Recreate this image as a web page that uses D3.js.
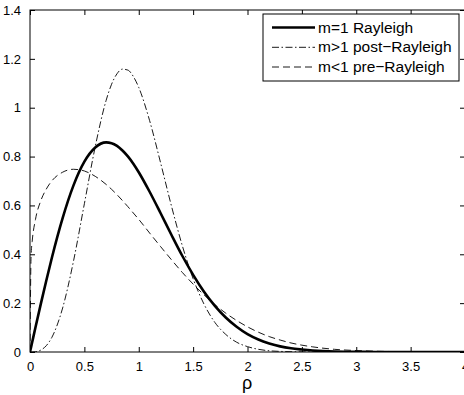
<!DOCTYPE html>
<html>
<head>
<meta charset="utf-8">
<script src="https://cdn.jsdelivr.net/npm/d3@7"></script>
<style>
  body { margin: 0; background: #fff; }
  svg { display: block; font-family: "Liberation Sans", Arial, Helvetica, sans-serif; }
</style>
</head>
<body>
<div id="container"></div>
<script>
// values
var rho = [0, 0.01, 0.02, 0.05, 0.1, 0.15, 0.2, 0.3, 0.4, 0.5, 0.6, 0.7, 0.75, 0.8, 0.85, 0.9, 0.95,
    1.0, 1.1, 1.2, 1.3, 1.4, 1.5, 1.6, 1.7, 1.8, 1.9, 2.0, 2.1, 2.2, 2.3, 2.4, 2.5, 2.6,
    2.8, 3.0, 3.2, 3.5, 4.0]
var rayleigh = [0, 0.020, 0.040, 0.100, 0.198, 0.293, 0.384, 0.548, 0.682, 0.779, 0.837, 0.858, 0.855, 0.844, 0.825, 0.801, 0.771,
    0.736, 0.656, 0.569, 0.480, 0.394, 0.316, 0.247, 0.189, 0.141, 0.103, 0.073, 0.051, 0.035, 0.023, 0.015, 0.010, 0.006,
    0.002, 0.001, 0, 0, 0]
var postRayleigh = [0, 0, 0.0001, 0.001, 0.008, 0.026, 0.059, 0.180, 0.372, 0.607, 0.841, 1.030, 1.096, 1.139, 1.158, 1.154, 1.128,
    1.083, 0.947, 0.776, 0.599, 0.436, 0.300, 0.196, 0.121, 0.072, 0.040, 0.022, 0.011, 0.005, 0.0025, 0.0011, 0.0005, 0.0002,
    0, 0, 0, 0, 0]
var preRayleigh = [0, 0.394, 0.452, 0.542, 0.620, 0.667, 0.700, 0.736, 0.748, 0.741, 0.719, 0.686, 0.666, 0.644, 0.620, 0.595, 0.569,
    0.543, 0.487, 0.432, 0.378, 0.326, 0.278, 0.234, 0.194, 0.159, 0.129, 0.103, 0.081, 0.063, 0.049, 0.037, 0.028, 0.021,
    0.011, 0.006, 0.003, 0.001, 0.0001]
var seriesNames = ["m=1 Rayleigh", "m>1 post\u2212Rayleigh", "m<1 pre\u2212Rayleigh"]
var xTicks = [0, 0.5, 1, 1.5, 2, 2.5, 3, 3.5, 4]
var yTicks = [0, 0.2, 0.4, 0.6, 0.8, 1, 1.2, 1.4]

main()

function main() {
    const width = 464
    const height = 395
    const marginTop = 10
    const marginLeft = 30
    const plotRight = 465
    const plotBottom = 352
    const tickLen = 5

    const x = d3.scaleLinear().domain([0, 4]).range([marginLeft, plotRight])
    const y = d3.scaleLinear().domain([0, 1.4]).range([plotBottom, marginTop])

    const svg = d3.create("svg")
        .attr("width", width)
        .attr("height", height)

    svg.append("defs").append("clipPath")
        .attr("id", "clip")
        .append("rect")
        .attr("x", marginLeft).attr("y", marginTop)
        .attr("width", plotRight - marginLeft).attr("height", plotBottom - marginTop)

    const styles = [
        {width: 2.6, dash: null},
        {width: 0.9, dash: "7,2.5,1.5,2.5"},
        {width: 0.9, dash: "7,4"}
    ]
    const allSeries = [rayleigh, postRayleigh, preRayleigh]

    const line = d3.line()
        .x((d, i) => x(rho[i]))
        .y(d => y(d))
        .curve(d3.curveMonotoneX)

    const g = svg.append("g").attr("clip-path", "url(#clip)")
    allSeries.forEach((s, k) => {
        g.append("path")
            .attr("d", line(s))
            .attr("fill", "none")
            .attr("stroke", "#000")
            .attr("stroke-width", styles[k].width)
            .attr("stroke-dasharray", styles[k].dash)
            .attr("stroke-linejoin", "round")
    })

    // box + inward ticks on all sides
    svg.append("rect")
        .attr("x", marginLeft).attr("y", marginTop)
        .attr("width", plotRight - marginLeft).attr("height", plotBottom - marginTop)
        .attr("fill", "none").attr("stroke", "#000").attr("stroke-width", 1)

    const bottom = svg.append("g")
        .attr("transform", `translate(0,${plotBottom})`)
        .call(d3.axisBottom(x).tickValues(xTicks).tickSizeInner(-tickLen).tickSizeOuter(0).tickPadding(10).tickFormat(d3.format("")))
    const top = svg.append("g")
        .attr("transform", `translate(0,${marginTop})`)
        .call(d3.axisTop(x).tickValues(xTicks).tickSizeInner(-tickLen).tickSizeOuter(0).tickFormat(""))
    const left = svg.append("g")
        .attr("transform", `translate(${marginLeft},0)`)
        .call(d3.axisLeft(y).tickValues(yTicks).tickSizeInner(-tickLen).tickSizeOuter(0).tickPadding(9).tickFormat(d3.format("")))
    const right = svg.append("g")
        .attr("transform", `translate(${plotRight},0)`)
        .call(d3.axisRight(y).tickValues(yTicks).tickSizeInner(-tickLen).tickSizeOuter(0).tickFormat(""))

    ;[bottom, top, left, right].forEach(a => {
        a.select(".domain").remove()
        a.selectAll("line").attr("stroke", "#000")
        a.selectAll("text")
            .attr("fill", "#000")
            .style("font-size", "13px")
            .style("font-family", '"Liberation Sans", Arial, sans-serif')
    })

    svg.append("text")
        .attr("x", 247)
        .attr("y", 389)
        .attr("text-anchor", "middle")
        .style("font-size", "18px")
        .text("\u03c1")

    // legend
    const lx = 263, ly = 14, lw = 196, lh = 67
    const legend = svg.append("g")
    legend.append("rect")
        .attr("x", lx).attr("y", ly).attr("width", lw).attr("height", lh)
        .attr("fill", "#fff").attr("stroke", "#000").attr("stroke-width", 1)
    const rows = [27.5, 47.3, 67]
    seriesNames.forEach((name, k) => {
        legend.append("line")
            .attr("x1", 272).attr("x2", 315)
            .attr("y1", rows[k]).attr("y2", rows[k])
            .attr("stroke", "#000")
            .attr("stroke-width", styles[k].width)
            .attr("stroke-dasharray", styles[k].dash)
        legend.append("text")
            .attr("x", 318)
            .attr("y", rows[k] + 5)
            .style("font-size", "15.5px")
            .text(name)
    })

    container.append(svg.node())
}
</script>
</body>
</html>
